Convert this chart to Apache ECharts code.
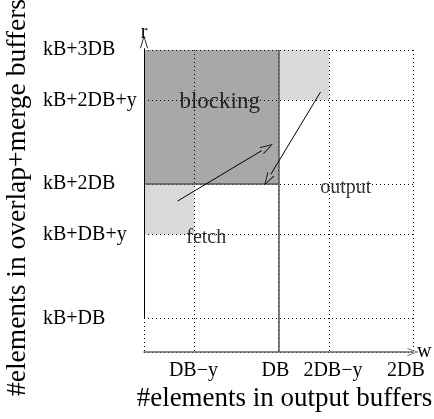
<!DOCTYPE html>
<html>
<head>
<meta charset="utf-8">
<script src="https://cdn.jsdelivr.net/npm/echarts@6/dist/echarts.min.js"></script>
<style>
html,body{margin:0;padding:0;background:#fff;}
#chart{width:434px;height:419px;}
</style>
</head>
<body>
<div id="chart"></div>
<script>
// axis ticks (in units where DB = 8, y = 5)
var xTicks = [0, 3, 8, 11, 16];
var xTickLabels = ['', 'DB\u2212y', 'DB', '2DB\u2212y', '2DB'];
var yTicks = [0, 2, 7, 10, 15, 18];
var yTickLabels = ['', 'kB+DB', 'kB+DB+y', 'kB+2DB', 'kB+2DB+y', 'kB+3DB'];

// regions [x0, y0, x1, y1]
var blockingRegion = [0, 10, 8, 18];
var fetchRegion = [0, 7, 3, 10];
var outputRegion = [8, 15, 11, 18];

// region labels [x, y, text]
var regionLabels = [
	[4.5, 14.9, 'blocking'],
	[3.7, 6.8, 'fetch'],
	[12.0, 9.8, 'output']
];

// arrows and edges
var fetchArrow = [[2, 9], [7, 12]];
var outputArrow = [[10.5, 15.5], [7.55, 10.6]];
var rAxisLine = [[0, 2], [0, 18.1]];
var dbEdge = [[8, 0], [8, 18]];
var blockingEdge = [[0, 10], [8, 10]];

var regionFills = ['#a8a8a8', '#d9d9d9', '#d9d9d9'];
// open arrow head, tip at the centre of the symbol box
var vArrow = 'path://M5,0 L10,14 L8.9,14 L5,2.6 L1.1,14 L0,14 Z M5,28 L5.01,28 L5,27.99 Z';
var axisArrow = 'path://M5,0 L10,14 L8.9,14 L5,2.6 L1.1,14 L0,14 Z';
var font = 'Liberation Serif';
var dotted = {color: '#000', width: 1, type: [1, 3]};
// small horizontal nudges of the x tick labels, as in the hand drawn figure
var xLabelRich = {
	l0: {}, l1: {padding: [0, 2, 0, 0]}, l2: {padding: [0, 6, 0, 0]},
	l3: {padding: [0, 0, 0, 8]}, l4: {padding: [0, 14, 0, 0]}
};

var myChart = echarts.init(document.getElementById('chart'));
var option = {
	animation: false,
	grid: {left: 144, right: 21, top: 50, bottom: 67, outerBoundsMode: 'none', containLabel: false},
	xAxis: [
		{
			type: 'value', min: 0, max: 16,
			name: '#elements in output buffers',
			nameLocation: 'middle', nameGap: 33,
			nameTextStyle: {fontFamily: font, fontSize: 27, color: '#000', padding: [0, 0, 0, 12]},
			axisLine: {show: true, symbol: ['none', axisArrow], symbolSize: [8, 13], lineStyle: {color: '#666', width: 1.5}},
			axisTick: {show: false, customValues: xTicks},
			axisLabel: {
				customValues: xTicks,
				formatter: function (v) {
					var i = xTicks.indexOf(v);
					return i < 1 ? '' : '{l' + i + '|' + xTickLabels[i] + '}';
				},
				rich: xLabelRich,
				fontFamily: font, fontSize: 20, color: '#000', margin: 9
			},
			splitLine: {show: true, lineStyle: dotted}
		},
		{
			type: 'value', min: 0, max: 16, position: 'bottom',
			name: 'w', nameLocation: 'end', nameGap: 4,
			nameTextStyle: {fontFamily: font, fontSize: 20, color: '#000'},
			axisLine: {show: false}, axisTick: {show: false},
			axisLabel: {show: false}, splitLine: {show: false}
		}
	],
	yAxis: [
		{
			type: 'value', min: 0, max: 18,
			name: '#elements in overlap+merge buffers',
			nameLocation: 'middle', nameGap: 110, nameRotate: 90,
			nameTextStyle: {fontFamily: font, fontSize: 27.5, color: '#000', padding: [0, 0, 0, 7]},
			axisLine: {show: false},
			axisTick: {show: false, customValues: yTicks},
			axisLabel: {
				customValues: yTicks,
				formatter: function (v) {
					var i = yTicks.indexOf(v);
					return i < 0 ? '' : yTickLabels[i];
				},
				fontFamily: font, fontSize: 20, color: '#000', align: 'left', margin: 101
			},
			splitLine: {show: true, lineStyle: dotted}
		},
		{
			type: 'value', min: 0, max: 18, position: 'left',
			name: 'r', nameLocation: 'end', nameGap: 7,
			nameTextStyle: {fontFamily: font, fontSize: 20, color: '#000'},
			axisLine: {show: false}, axisTick: {show: false},
			axisLabel: {show: false}, splitLine: {show: false}
		}
	],
	series: [
		{
			type: 'custom',
			z: -1,
			encode: {x: [0, 2], y: [1, 3]},
			data: [blockingRegion, fetchRegion, outputRegion],
			renderItem: function (params, api) {
				var p0 = api.coord([api.value(0), api.value(3)]);
				var p1 = api.coord([api.value(2), api.value(1)]);
				return {
					type: 'rect',
					shape: {x: p0[0], y: p0[1], width: p1[0] - p0[0], height: p1[1] - p0[1]},
					style: {fill: regionFills[params.dataIndex]}
				};
			}
		},
		{
			type: 'lines',
			coordinateSystem: 'cartesian2d',
			lineStyle: {color: '#555', width: 1.5, opacity: 1},
			data: [{coords: dbEdge}, {coords: blockingEdge}]
		},
		{
			type: 'lines',
			coordinateSystem: 'cartesian2d',
			clip: false,
			symbol: ['none', vArrow],
			symbolSize: [8, [8, 26]],
			lineStyle: {color: '#000', width: 1, opacity: 1},
			data: [{coords: fetchArrow}, {coords: outputArrow}, {coords: rAxisLine}]
		},
		{
			type: 'scatter',
			symbolSize: 0,
			data: regionLabels.map(function (d, i) {
				// the blocking label is set larger than the others
				return i === 0 ? {value: d, label: {fontSize: 23}} : {value: d};
			}),
			label: {
				show: true, position: 'inside',
				formatter: function (p) { return p.value[2]; },
				fontFamily: font, fontSize: 20, color: '#000'
			},
			emphasis: {disabled: true}
		}
	]
};
myChart.setOption(option, true);
</script>
</body>
</html>
